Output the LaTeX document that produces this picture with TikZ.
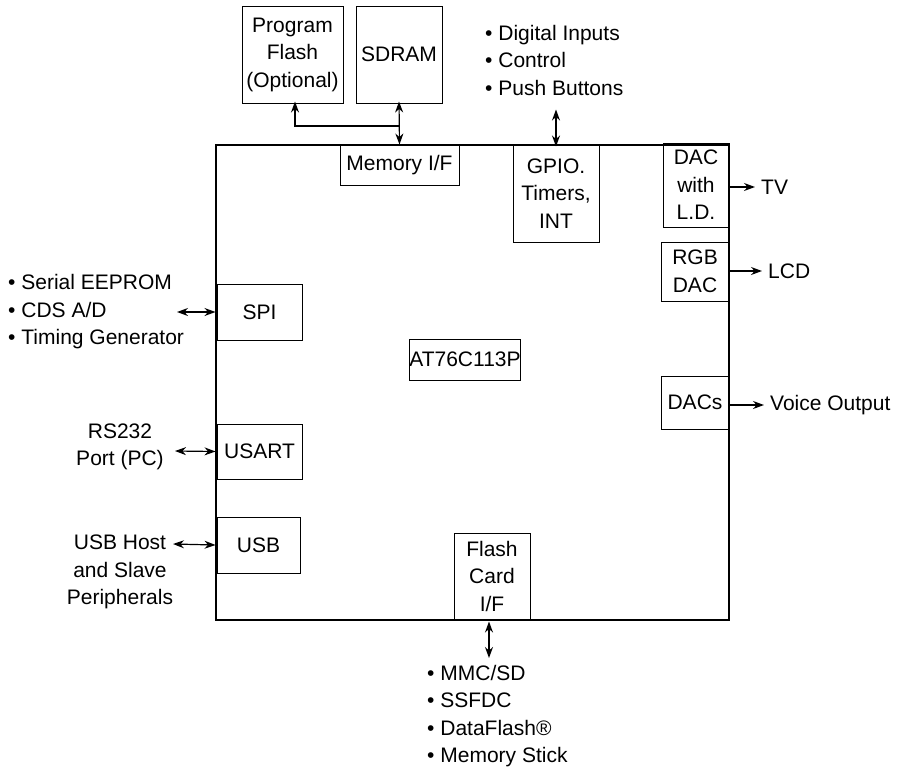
\documentclass[tikz,border=0pt]{standalone}
\usepackage{fontspec}
\setmainfont{Liberation Sans}
\usetikzlibrary{arrows.meta}
\begin{document}
\begin{tikzpicture}[x=1pt,y=-1pt,
  every node/.style={font=\fontsize{21}{27.5}\selectfont},
  blk/.style={draw,line width=1pt,inner sep=0pt,align=center},
  lbl/.style={inner sep=0pt,align=left},
  ctr/.style={inner sep=0pt,align=center},
  tip/.style={Stealth[length=11pt,width=8pt]},
  arr/.style={line width=1.2pt,-{Stealth[length=11pt,width=8pt]}},
  darr/.style={line width=1.2pt,{Stealth[length=11pt,width=8pt]}-{Stealth[length=11pt,width=8pt]}}]
\useasboundingbox (0,0) rectangle (898,769);
% main chip
\draw[line width=1.8pt] (216,145) rectangle (729,620);
\node[blk,minimum width=102pt,minimum height=41pt] (chip) at (465,359.5) {AT76C113P};
% top memory
\node[blk,minimum width=101pt,minimum height=97pt] (pf) at (292.5,54.5) {Program\\Flash\\(Optional)};
\node[blk,minimum width=86pt,minimum height=97pt] (sdram) at (399,54.5) {SDRAM};
\node[blk,minimum width=119pt,minimum height=40pt] (memif) at (399.5,165) {Memory I/F};
\draw[darr] ([yshift=2pt]sdram.south) -- (memif.north);
\coordinate (mj) at (399.5,126);
\draw[arr] (mj) -| ([xshift=2.5pt,yshift=2pt]pf.south);
% GPIO
\node[blk,minimum width=86pt,minimum height=97pt] (gpio) at (556,193.5) {GPIO.\\Timers,\\INT};
\node[lbl,anchor=west] (gpiot) at (485,60) {• Digital Inputs\\• Control\\• Push Buttons};
\draw[darr] ([yshift=-2pt]gpio.north) -- ++(0,-37);
% right DACs
\node[blk,minimum width=66pt,minimum height=84pt] (dactv) at (696,185) {DAC\\with\\L.D.};
\node[blk,minimum width=68pt,minimum height=59pt] (rgb) at (695,271.5) {RGB\\DAC};
\node[blk,minimum width=68pt,minimum height=53pt] (dacs) at (695,402.5) {DACs};
\node[lbl,anchor=west] (tv) at (761,187) {TV};
\node[lbl,anchor=west] (lcd) at (768,271) {LCD};
\node[lbl,anchor=west] (voice) at (770,405) {Voice Output};
\draw[arr] (dactv.east|-tv.west) -- ([xshift=-6pt]tv.west);
\draw[arr] (rgb.east|-lcd.west) -- ([xshift=-6pt]lcd.west);
\draw[arr] (dacs.east|-voice.west) -- ([xshift=-6pt]voice.west);
% left
\node[blk,minimum width=85pt,minimum height=56pt] (spi) at (259.5,312) {SPI};
\node[blk,minimum width=85pt,minimum height=55pt] (usart) at (259.5,451.5) {USART};
\node[blk,minimum width=83pt,minimum height=56pt] (usb) at (258.5,545) {USB};
\node[lbl,anchor=west] (spit) at (8,312) {• Serial EEPROM\\• CDS A/D\\• Timing Generator};
\node[ctr] (rst) at (120,447) {RS232\\Port (PC)};
\node[ctr] (usbt) at (120,572) {USB Host\\and Slave\\Peripherals};
\coordinate (spie) at (177,312);
\coordinate (rse) at (175,451);
\coordinate (usbe) at (173,544);
\draw[darr] (spie) -- ([xshift=-1pt]spi.west);
\draw[darr] (rse) -- ([xshift=-1pt]usart.west);
\draw[darr] (usbe) -- ([xshift=-1pt]usb.west);
% bottom
\node[blk,minimum width=76pt,minimum height=86pt] (fc) at (492,576) {Flash\\Card\\I/F};
\node[lbl,anchor=west] (fct) at (427,716) {• MMC/SD\\• SSFDC\\• DataFlash®\\• Memory Stick};
\coordinate (fce) at (489,658);
\draw[darr] (fc.south-|fce) ++(0,2) -- (fce);
\end{tikzpicture}
\end{document}
